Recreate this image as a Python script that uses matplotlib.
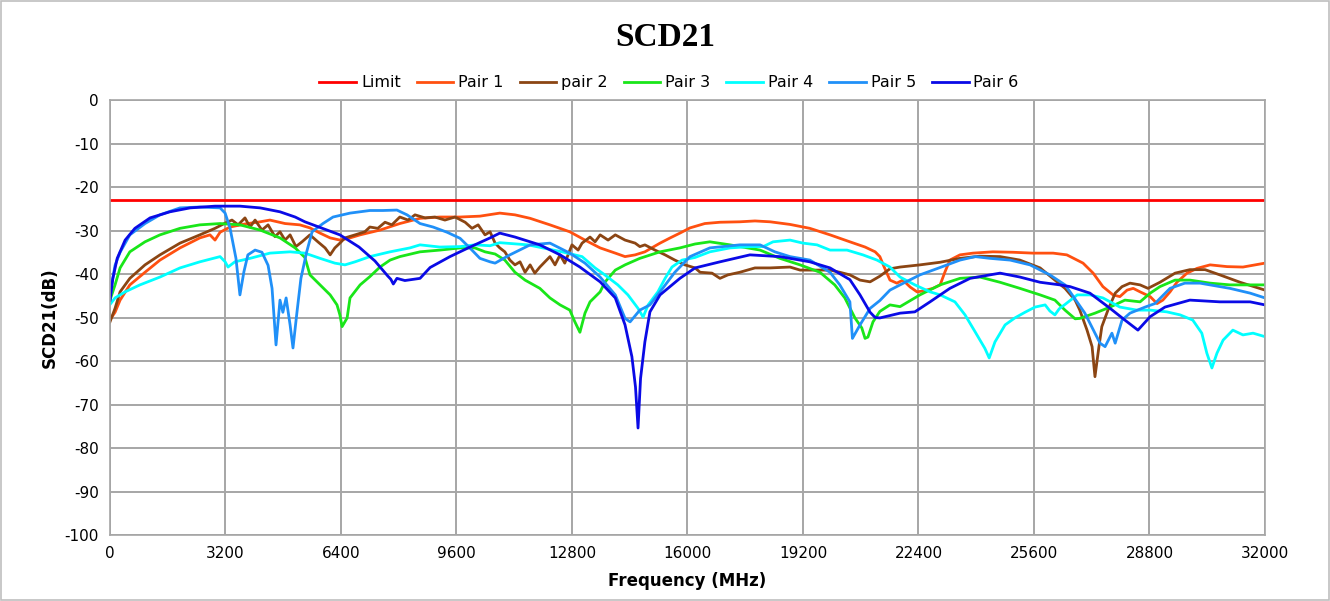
import matplotlib
matplotlib.use("Agg")
import matplotlib.pyplot as plt
import numpy as np

plt.rcParams["axes.unicode_minus"] = False

# frequency (MHz), SCD21 (dB)
limit_db = -23

pair1 = [(0, -50.5), (140, -48.8), (280, -46), (550, -42.5), (970, -39.6), (1385, -36.8), (1940, -34),
         (2490, -31.7), (2770, -31), (2910, -32.2), (3050, -30.4), (3325, -29.2), (3740, -28.5),
         (4160, -28), (4430, -27.6), (4850, -28.4), (5260, -28.7), (5540, -29.4), (5820, -30.6),
         (6100, -31.7), (6370, -32.2), (6650, -31.7), (6930, -31), (7480, -29.9), (8030, -28.4),
         (8590, -27.2), (9140, -26.9), (9700, -26.9), (10250, -26.7), (10800, -26), (11220, -26.4),
         (11640, -27.2), (12190, -28.7), (12740, -30.3), (13160, -32.2), (13580, -34), (14000, -35.2),
         (14270, -36), (14550, -35.6), (14820, -34.9), (15240, -32.9), (15520, -31.7), (15790, -30.6),
         (16070, -29.4), (16480, -28.4), (16900, -28.1), (17450, -28), (17870, -27.8), (18290, -28),
         (18840, -28.6), (19390, -29.5), (19950, -31), (20500, -32.6), (20920, -33.8), (21200, -34.9),
         (21330, -36), (21450, -38.4), (21610, -41.4), (21800, -42.1), (21970, -41.4), (22170, -43),
         (22360, -44.1), (22530, -43.9), (22800, -43.3), (23000, -42.5), (23130, -39.6), (23270, -36.8),
         (23550, -35.6), (23910, -35.2), (24460, -34.9), (25020, -35), (25570, -35.2), (26130, -35.2),
         (26510, -35.6), (26700, -36.4), (26960, -37.5), (27240, -39.8), (27510, -42.9), (27790, -44.8),
         (27980, -45.2), (28180, -43.7), (28350, -43.3), (28540, -44.1), (28820, -45.2), (29010, -46.8),
         (29170, -46), (29370, -44.1), (29560, -41.9), (29840, -39.8), (30120, -38.7), (30480, -37.9),
         (30950, -38.3), (31390, -38.4), (32000, -37.5)]

pair2 = [(0, -51), (140, -47.9), (280, -44.1), (550, -41), (970, -37.9), (1385, -35.6), (1940, -32.9),
         (2490, -31), (2910, -29.5), (3190, -28.3), (3380, -27.6), (3550, -28.7), (3740, -27.1),
         (3880, -29.2), (4020, -27.6), (4210, -29.9), (4380, -28.7), (4570, -31.4), (4710, -30.3),
         (4850, -32.2), (4990, -31), (5150, -33.7), (5320, -32.6), (5540, -31), (5760, -32.6),
         (5960, -34), (6100, -35.6), (6230, -34), (6370, -32.9), (6510, -31.7), (6790, -31),
         (7060, -30.3), (7200, -29.2), (7420, -29.5), (7620, -28.1), (7810, -28.7), (8030, -26.9),
         (8260, -27.6), (8450, -26.4), (8730, -27.1), (9000, -26.9), (9280, -27.6), (9560, -26.9),
         (9840, -28.1), (10030, -29.5), (10200, -28.7), (10390, -31), (10530, -30.3), (10670, -32.9),
         (10800, -34), (10940, -34.9), (11080, -36.8), (11220, -37.9), (11360, -37.2), (11500, -39.6),
         (11640, -37.9), (11770, -39.8), (11910, -38.4), (12050, -37.2), (12190, -36), (12330, -37.9),
         (12470, -35.6), (12600, -37.5), (12800, -33.3), (12970, -34.5), (13080, -32.9), (13300, -31.5),
         (13440, -32.6), (13580, -31), (13800, -32.2), (14000, -31), (14270, -32.2), (14550, -32.9),
         (14680, -33.7), (14820, -33.3), (15100, -34.5), (15380, -35.6), (15650, -36.8), (15930, -37.9),
         (16210, -38.6), (16350, -39.6), (16680, -39.8), (16900, -41), (17120, -40.2), (17450, -39.6),
         (17870, -38.6), (18290, -38.6), (18840, -38.4), (19120, -39.1), (19530, -39.1), (19950, -39.1),
         (20220, -39.6), (20500, -40.2), (20780, -41.4), (21060, -41.8), (21330, -40.5), (21610, -38.8),
         (21890, -38.4), (22440, -37.9), (23000, -37.3), (23550, -36.4), (24100, -35.9), (24660, -36),
         (25210, -36.8), (25770, -38.6), (26180, -41.4), (26460, -43.3), (26740, -46), (26870, -48.3),
         (27070, -52.9), (27210, -56.7), (27290, -63.6), (27400, -56.7), (27480, -52.1), (27650, -48.3),
         (27850, -44.4), (28040, -42.9), (28260, -42.1), (28540, -42.5), (28760, -43.3), (29090, -41.9),
         (29510, -39.8), (29920, -39), (30340, -39), (30750, -40.2), (31310, -41.9), (32000, -43.7)]

pair3 = [(0, -46), (140, -42.5), (280, -38.6), (550, -34.9), (970, -32.6), (1385, -31), (1940, -29.5),
         (2490, -28.7), (3050, -28.4), (3600, -28.7), (4160, -29.9), (4710, -31.7), (5130, -34),
         (5400, -36.2), (5540, -40.2), (5820, -42.5), (6100, -44.8), (6290, -47.1), (6370, -49.4),
         (6430, -52.1), (6570, -50.1), (6650, -45.5), (6930, -42.5), (7200, -40.6), (7480, -38.4),
         (7760, -36.8), (8030, -36), (8590, -34.9), (9140, -34.5), (9700, -34), (10110, -34),
         (10390, -34.9), (10670, -35.4), (10940, -36.8), (11220, -39.6), (11500, -41.4), (11910, -43.3),
         (12190, -45.5), (12470, -47.1), (12740, -48.3), (12880, -51), (13020, -53.4), (13160, -49),
         (13300, -46.4), (13580, -44.1), (13710, -41.9), (14000, -39.1), (14270, -37.9), (14680, -36.4),
         (15240, -34.9), (15790, -34), (16210, -33.1), (16620, -32.6), (17180, -33.3), (18010, -34.5),
         (18560, -36.4), (19120, -37.9), (19670, -39.6), (20080, -42.5), (20360, -45.5), (20640, -50.1),
         (20830, -52.4), (20920, -54.8), (21000, -54.5), (21140, -51), (21330, -48.6), (21610, -47.1),
         (21890, -47.5), (22440, -44.8), (23000, -42.5), (23550, -41), (24100, -40.7), (24660, -41.9),
         (25210, -43.3), (25770, -44.8), (26180, -46), (26460, -48.3), (26740, -50.3), (26870, -50.2),
         (27290, -49), (27710, -47.6), (28120, -46), (28540, -46.4), (28820, -44.4), (29090, -42.9),
         (29510, -41.4), (29920, -41.4), (30480, -42.1), (31030, -42.5), (31590, -42.5), (32000, -42.5)]

pair4 = [(0, -47), (140, -45.5), (420, -44.1), (830, -42.5), (1385, -40.7), (1940, -38.6), (2490, -37.2),
         (3050, -36), (3190, -37.2), (3270, -38.4), (3460, -37.2), (3880, -36.4), (4430, -35.2),
         (4990, -34.9), (5400, -35.2), (5820, -36.4), (6230, -37.5), (6510, -37.9), (6790, -37.2),
         (7200, -36), (7760, -34.9), (8310, -34), (8590, -33.3), (9140, -33.8), (9700, -33.7),
         (10110, -33.3), (10530, -33.5), (10800, -32.8), (11580, -33.3), (12520, -34.9), (13080, -36),
         (13440, -38.6), (13710, -40.2), (14070, -42.5), (14350, -44.8), (14630, -47.9), (14770, -49.9),
         (14910, -47.1), (15180, -44.1), (15380, -41), (15570, -38.4), (15850, -36.8), (16210, -36.2),
         (16620, -34.9), (17180, -34), (17730, -33.7), (18100, -33.7), (18370, -32.6), (18840, -32.2),
         (19200, -32.9), (19590, -33.3), (19950, -34.5), (20420, -34.5), (20860, -35.6), (21250, -36.8),
         (21610, -38.4), (21890, -40.7), (22300, -42.5), (22720, -44.1), (23000, -44.8), (23410, -46.4),
         (23690, -49.4), (23970, -53.3), (24240, -57.1), (24360, -59.3), (24520, -55.6), (24800, -51.7),
         (25070, -50.1), (25350, -48.8), (25630, -47.6), (25910, -47.1), (26040, -48.5), (26180, -49.4),
         (26300, -48), (26460, -47), (26800, -44.8), (27150, -44.8), (27510, -45.5), (27980, -47.6),
         (28450, -48.3), (28820, -48.3), (29280, -48.7), (29650, -49.4), (30000, -50.6), (30250, -53.6),
         (30390, -58.2), (30530, -61.6), (30670, -58.2), (30840, -55.2), (31110, -52.9), (31390, -54),
         (31670, -53.6), (32000, -54.4)]

pair5 = [(0, -46), (55, -42), (140, -38), (280, -35), (550, -31), (970, -28.4), (1385, -26.4),
         (1940, -24.8), (2490, -24.6), (3050, -24.8), (3190, -26), (3325, -29.4), (3490, -36.4),
         (3600, -44.8), (3710, -39.5), (3820, -35.6), (4020, -34.5), (4210, -35), (4380, -38),
         (4490, -43.3), (4600, -56.3), (4710, -46), (4790, -48.8), (4880, -45.5), (4990, -51.7),
         (5070, -57), (5180, -48.8), (5290, -41), (5450, -34.9), (5600, -30.3), (5900, -28.4),
         (6180, -26.9), (6650, -26), (7200, -25.4), (7560, -25.4), (7950, -25.3), (8230, -26.4),
         (8590, -28.4), (8950, -29.2), (9340, -30.4), (9700, -31.8), (9970, -34), (10250, -36.4),
         (10530, -37.2), (10670, -37.5), (11080, -35.6), (11640, -33.3), (12190, -32.9), (12740, -35.2),
         (13160, -37.5), (13580, -40.7), (14000, -44.8), (14270, -50.2), (14410, -51), (14680, -48.3),
         (14960, -47.1), (15240, -44.1), (15650, -39.6), (16070, -36), (16620, -34), (17450, -33.3),
         (18010, -33.3), (18420, -34.9), (18840, -36), (19390, -36.8), (19950, -39.6), (20220, -42.5),
         (20500, -46.4), (20570, -54.8), (20780, -51.7), (21060, -47.9), (21330, -46.1), (21610, -43.7),
         (21890, -42.5), (22440, -40.2), (23000, -38.5), (23550, -36.8), (23970, -36), (24380, -36.4),
         (24940, -36.8), (25490, -37.9), (26040, -40.2), (26460, -42.5), (26600, -44.1), (27010, -49),
         (27430, -55.9), (27570, -56.7), (27760, -53.6), (27850, -55.9), (28040, -50.6), (28260, -49),
         (28680, -47.6), (28950, -46.8), (29370, -43.3), (29780, -42.1), (30200, -42.1), (31030, -43.3),
         (31590, -44.4), (32000, -45.5)]

pair6 = [(0, -46), (80, -41), (200, -36.4), (420, -32.2), (690, -29.5), (1110, -27.1), (1660, -25.7),
         (2220, -24.8), (2910, -24.4), (3600, -24.4), (4160, -24.8), (4710, -25.7), (5130, -26.9),
         (5400, -28), (6370, -31), (6900, -33.8), (7340, -37), (7700, -40.5), (7780, -41.2),
         (7850, -42.3), (7950, -41), (8170, -41.5), (8590, -41), (8870, -38.5), (9420, -36),
         (9975, -33.8), (10530, -31.7), (10800, -30.6), (11220, -31.5), (11910, -33.3), (12470, -35.6),
         (13020, -38.4), (13580, -41.8), (14000, -45.5), (14270, -51.7), (14460, -59), (14560, -66),
         (14630, -75.4), (14700, -64), (14820, -55.6), (14960, -48.7), (15240, -44.8), (15790, -41),
         (16210, -38.6), (16900, -37.2), (17730, -35.6), (18560, -36), (19390, -37.2), (19950, -38.6),
         (20500, -41.3), (20780, -44.8), (21060, -48.8), (21200, -50), (21330, -50.1), (21890, -49),
         (22300, -48.7), (22720, -46.4), (23270, -43.3), (23830, -41), (24380, -40.2), (24660, -39.8),
         (25210, -40.7), (25770, -41.9), (26320, -42.5), (26600, -42.9), (27150, -44.4), (27710, -47.9),
         (28120, -50.6), (28480, -52.9), (28820, -49.8), (29230, -47.6), (29920, -46), (30750, -46.4),
         (31590, -46.4), (32000, -47.1)]

series_names = ["Pair 1", "pair 2", "Pair 3", "Pair 4", "Pair 5", "Pair 6"]
series_data = [pair1, pair2, pair3, pair4, pair5, pair6]
series_colors = ["#FF5010", "#8B4513", "#19E619", "#00FFFF", "#2090F8", "#0A0AE6"]

x_ticks = np.arange(0, 32001, 3200)
y_ticks = np.arange(-100, 1, 10)

fig = plt.figure(figsize=(13.3, 6.01), dpi=100)
ax = fig.add_axes([0.0827, 0.1098, 0.8684, 0.7238])

ax.plot([0, 32000], [limit_db, limit_db], color="#FF0000", lw=2.0, label="Limit")
for name, data, color in zip(series_names, series_data, series_colors):
    arr = np.array(data)
    ax.plot(arr[:, 0], arr[:, 1], color=color, lw=2.0, label=name)

ax.set_xlim(0, 32000)
ax.set_ylim(-100, 0)
ax.set_xticks(x_ticks)
ax.set_yticks(y_ticks)
ax.tick_params(axis="both", labelsize=11, length=0, pad=8)
ax.grid(True, color="#A6A6A6", lw=1.4)
for side in ax.spines.values():
    side.set_color("#A6A6A6")
    side.set_linewidth(1.2)

ax.set_xlabel("Frequency (MHz)", fontsize=12, fontweight="bold", labelpad=8)
ax.set_ylabel("SCD21(dB)", fontsize=12, fontweight="bold", labelpad=4)

fig.text(0.5, 0.938, "SCD21", ha="center", va="center", fontsize=24,
         fontweight="bold", family="Liberation Serif")
fig.legend(loc="center", bbox_to_anchor=(0.503, 0.862), ncol=7, frameon=False,
           fontsize=11.5, handlelength=2.3, handletextpad=0.3, columnspacing=1.0)

# outer chart border
fig.patches.append(plt.Rectangle((0.001, 0.001), 0.998, 0.997, transform=fig.transFigure,
                                 fill=False, edgecolor="#BFBFBF", lw=1.2))

fig.savefig("out.png", dpi=100)
